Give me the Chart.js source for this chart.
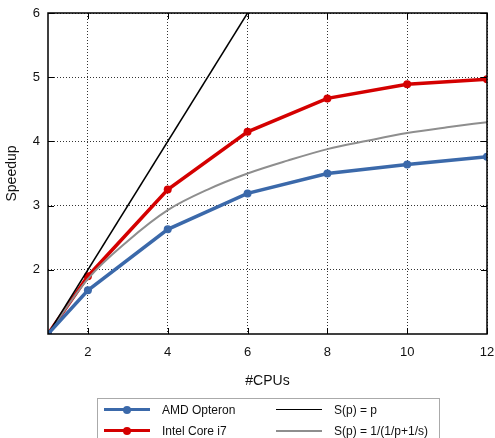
<!DOCTYPE html>
<html>
<head>
<meta charset="utf-8">
<script src="https://cdn.jsdelivr.net/npm/chart.js@4"></script>
<style>
  body { margin: 0; background: #fff; font-family: "Liberation Sans", Arial, sans-serif; }
  #wrap { position: relative; width: 495px; height: 438px; overflow: hidden; }
  #legend { position: absolute; left: 97px; top: 398px; width: 343px; height: 44px;
            border: 1px solid #aaa; box-sizing: border-box; font-size: 12px; color: #111; }
  .item { position: absolute; height: 20px; line-height: 20px; }
  .swatch { position: absolute; top: 10px; width: 46px; }
  .dot { position: absolute; left: 19px; width: 8px; height: 8px; border-radius: 50%; }
  .lbl { position: absolute; white-space: nowrap; }
</style>
</head>
<body>
<div id="wrap">
  <canvas id="speedupChart" width="495" height="438"></canvas>
  <div id="legend"></div>
</div>
<script>
var cpus = [1, 2, 4, 6, 8, 10, 12];
var amdOpteron = [1, 1.68, 2.63, 3.19, 3.50, 3.64, 3.76];
var intelCoreI7 = [1, 1.90, 3.25, 4.15, 4.67, 4.89, 4.97];

var idealP = [1, 6];
var idealS = [1, 6];

var modelP = [1, 2, 3, 4, 5, 6, 7, 8, 9, 10, 11, 12];
var modelS = [1, 1.86, 2.45, 2.93, 3.25, 3.50, 3.70, 3.88, 4.01, 4.13, 4.22, 4.30];

var xTicks = [2, 4, 6, 8, 10, 12];
var yTicks = [2, 3, 4, 5, 6];

function pairs(xs, ys) {
  return xs.map(function(x, i) { return { x: x, y: ys[i] }; });
}

var blue = '#3b69aa';
var red = '#d40000';

// box around the plot plus the short inner tick marks
var frame = {
  id: 'frame',
  afterDatasetsDraw: function(chart) {
    var a = chart.chartArea, ctx = chart.ctx;
    var sx = chart.scales.x, sy = chart.scales.y;
    ctx.save();
    ctx.strokeStyle = '#000';
    ctx.lineWidth = 1.5;
    ctx.strokeRect(a.left, a.top, a.right - a.left, a.bottom - a.top);
    ctx.lineWidth = 1;
    ctx.beginPath();
    xTicks.forEach(function(v) {
      var px = Math.round(sx.getPixelForValue(v)) + 0.5;
      ctx.moveTo(px, a.bottom); ctx.lineTo(px, a.bottom - 6);
      ctx.moveTo(px, a.top); ctx.lineTo(px, a.top + 6);
    });
    yTicks.forEach(function(v) {
      var py = Math.round(sy.getPixelForValue(v)) + 0.5;
      ctx.moveTo(a.left, py); ctx.lineTo(a.left + 6, py);
      ctx.moveTo(a.right, py); ctx.lineTo(a.right - 6, py);
    });
    ctx.stroke();
    ctx.restore();
  }
};

var ctx = document.getElementById('speedupChart').getContext('2d');
var chart = new Chart(ctx, {
  type: 'line',
  data: {
    datasets: [
      {
        label: 'AMD Opteron',
        data: pairs(cpus, amdOpteron),
        borderColor: blue, backgroundColor: blue,
        borderWidth: 3.5, pointRadius: 4, pointHoverRadius: 4, pointBorderWidth: 0,
        order: 0
      },
      {
        label: 'Intel Core i7',
        data: pairs(cpus, intelCoreI7),
        borderColor: red, backgroundColor: red,
        borderWidth: 3.5, pointRadius: 4, pointHoverRadius: 4, pointBorderWidth: 0,
        order: 3
      },
      {
        label: 'S(p) = p',
        data: pairs(idealP, idealS),
        borderColor: '#000', backgroundColor: '#000',
        borderWidth: 1.5, pointRadius: 0,
        order: 1
      },
      {
        label: 'S(p) = 1/(1/p+1/s)',
        data: pairs(modelP, modelS),
        borderColor: '#8e8e8e', backgroundColor: '#8e8e8e',
        borderWidth: 2, pointRadius: 0,
        cubicInterpolationMode: 'monotone',
        order: 2
      }
    ]
  },
  options: {
    responsive: false,
    animation: false,
    layout: { padding: { top: 13, right: 8, bottom: 44, left: 0 } },
    plugins: { legend: { display: false }, tooltip: { enabled: false } },
    scales: {
      x: {
        type: 'linear', min: 1, max: 12,
        afterBuildTicks: function(s) { s.ticks = xTicks.map(function(v) { return { value: v }; }); },
        afterFit: function(s) { s.height = 60; s.paddingLeft = 0; s.paddingRight = 0; },
        grid: { color: '#333', lineWidth: 1, drawTicks: false },
        border: { display: false, dash: [1, 2] },
        ticks: { padding: 11, color: '#111', font: { family: 'Liberation Sans', size: 13 }, maxRotation: 0 },
        title: { display: true, text: '#CPUs', color: '#111', padding: { top: 5 }, font: { family: 'Liberation Sans', size: 14 } }
      },
      y: {
        type: 'linear', min: 1, max: 6,
        afterBuildTicks: function(s) { s.ticks = yTicks.map(function(v) { return { value: v }; }); },
        afterFit: function(s) { s.width = 48; s.paddingTop = 0; s.paddingBottom = 0; },
        grid: { color: '#333', lineWidth: 1, drawTicks: false },
        border: { display: false, dash: [1, 2] },
        ticks: { padding: 8, color: '#111', font: { family: 'Liberation Sans', size: 13 } },
        title: { display: true, text: 'Speedup', color: '#111', padding: { bottom: 0, top: 4 }, font: { family: 'Liberation Sans', size: 14 } }
      }
    }
  },
  plugins: [frame]
});

// legend in two columns, built from the datasets
var legend = document.getElementById('legend');
var spots = [[6, 1], [6, 22], [178, 1], [178, 22]];
chart.data.datasets.forEach(function(ds, i) {
  var it = document.createElement('div');
  it.className = 'item';
  it.style.left = spots[i][0] + 'px';
  it.style.top = spots[i][1] + 'px';
  var sw = document.createElement('div');
  sw.className = 'swatch';
  sw.style.borderTop = ds.borderWidth + 'px solid ' + ds.borderColor;
  sw.style.marginTop = (-ds.borderWidth / 2) + 'px';
  if (ds.pointRadius) {
    var d = document.createElement('div');
    d.className = 'dot';
    d.style.background = ds.borderColor;
    d.style.top = (-4 - ds.borderWidth / 2) + 'px';
    sw.appendChild(d);
  }
  var lb = document.createElement('span');
  lb.className = 'lbl';
  lb.style.left = '58px';
  lb.textContent = ds.label;
  it.appendChild(sw);
  it.appendChild(lb);
  legend.appendChild(it);
});
</script>
</body>
</html>
